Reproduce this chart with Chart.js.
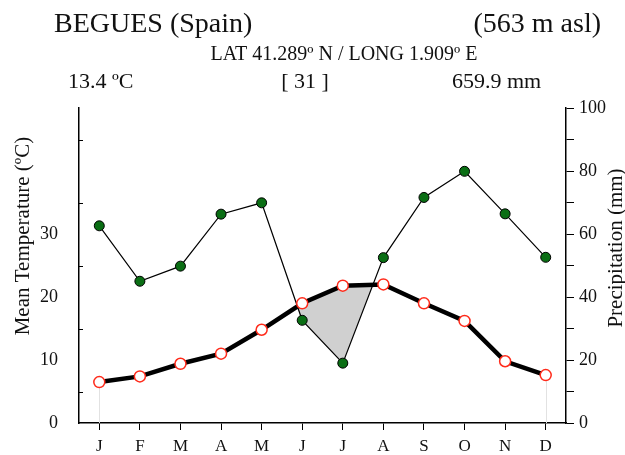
<!DOCTYPE html>
<html>
<head>
<meta charset="utf-8">
<script src="https://cdn.jsdelivr.net/npm/chart.js@4.4.1/dist/chart.umd.min.js"></script>
<style>
html,body{margin:0;padding:0;background:#fff;}
#wrap{position:relative;width:625px;height:455px;}
</style>
</head>
<body>
<div id="wrap"><canvas id="c" width="625" height="455"></canvas></div>
<script>
// ---- data ----
const months = ['J','F','M','A','M','J','J','A','S','O','N','D'];
const tempC = [6.5, 7.4, 9.4, 11.0, 14.8, 19.0, 21.8, 22.0, 19.0, 16.2, 9.8, 7.6];
const precipMm = [62.6, 45.0, 49.8, 66.3, 69.9, 32.6, 19.0, 52.5, 71.6, 79.9, 66.4, 52.6];
const tempLabelTicks = [0, 10, 20, 30];
const tempMinorTicks = [5, 15, 25, 35, 45];
const precipLabelTicks = [0, 20, 40, 60, 80, 100];
const stationTitle = 'BEGUES (Spain)';
const altitudeText = '(563 m asl)';
const coordText = 'LAT 41.289º N / LONG 1.909º E';
const meanTempText = '13.4 ºC';
const yearsText = '[ 31 ]';
const totalPrecipText = '659.9 mm';
const tempAxisTitle = 'Mean Temperature (ºC)';
const precipAxisTitle = 'Precipitation (mm)';

const SERIF = '"Liberation Serif", "DejaVu Serif", serif';

const decor = {
  id: 'decor',
  beforeDatasetsDraw(chart) {
    const ctx = chart.ctx;
    const meta = chart.getDatasetMeta(0);
    const yT = chart.scales.yT;
    ctx.save();
    ctx.strokeStyle = '#e2e2e2';
    ctx.lineWidth = 1;
    [0, meta.data.length - 1].forEach(i => {
      const p = meta.data[i];
      ctx.beginPath();
      ctx.moveTo(Math.round(p.x) + 0.5, p.y);
      ctx.lineTo(Math.round(p.x) + 0.5, yT.getPixelForValue(0));
      ctx.stroke();
    });
    ctx.restore();
  },
  afterDraw(chart) {
    const ctx = chart.ctx;
    const yT = chart.scales.yT;
    const area = chart.chartArea;
    ctx.save();
    // inward minor ticks on the temperature axis
    ctx.strokeStyle = '#000';
    ctx.lineWidth = 1;
    tempMinorTicks.forEach(v => {
      const y = Math.round(yT.getPixelForValue(v)) + 0.5;
      ctx.beginPath();
      ctx.moveTo(area.left, y);
      ctx.lineTo(area.left + 4, y);
      ctx.stroke();
    });
    ctx.fillStyle = '#111';
    ctx.textBaseline = 'alphabetic';
    ctx.font = '28px ' + SERIF;
    ctx.textAlign = 'left';
    ctx.fillText(stationTitle, 54, 32);
    ctx.textAlign = 'right';
    ctx.fillText(altitudeText, 601, 32);
    ctx.font = '20px ' + SERIF;
    ctx.textAlign = 'center';
    ctx.fillText(coordText, 344, 60);
    ctx.font = '22px ' + SERIF;
    ctx.textAlign = 'left';
    ctx.fillText(meanTempText, 68, 88);
    ctx.textAlign = 'center';
    ctx.fillText(yearsText, 305, 88);
    ctx.textAlign = 'left';
    ctx.fillText(totalPrecipText, 452, 88);
    // axis titles
    ctx.font = '21px ' + SERIF;
    ctx.textAlign = 'center';
    ctx.textBaseline = 'middle';
    ctx.save();
    ctx.translate(23, 236);
    ctx.rotate(-Math.PI / 2);
    ctx.fillText(tempAxisTitle, 0, 0);
    ctx.restore();
    ctx.save();
    ctx.translate(616, 248);
    ctx.rotate(-Math.PI / 2);
    ctx.fillText(precipAxisTitle, 0, 0);
    ctx.restore();
    ctx.restore();
  }
};

new Chart(document.getElementById('c'), {
  type: 'line',
  data: {
    labels: months,
    datasets: [
      {
        label: 'Temperature',
        data: tempC,
        yAxisID: 'yT',
        borderColor: '#000',
        borderWidth: 4.5,
        pointRadius: 5.5,
        pointBackgroundColor: '#fff',
        pointBorderColor: '#ff2a1a',
        pointBorderWidth: 1.5,
        tension: 0,
        order: 0,
        fill: { target: 1, above: '#d0d0d0', below: 'rgba(0,0,0,0)' }
      },
      {
        label: 'Precipitation',
        data: precipMm,
        yAxisID: 'yP',
        borderColor: '#000',
        borderWidth: 1.2,
        pointRadius: 5,
        pointBackgroundColor: '#0a6e14',
        pointBorderColor: '#000',
        pointBorderWidth: 1,
        tension: 0,
        order: 1,
        fill: false
      }
    ]
  },
  options: {
    responsive: false,
    animation: false,
    devicePixelRatio: 1,
    layout: { padding: { top: 108, left: 0, right: 0, bottom: 0 } },
    plugins: {
      legend: { display: false },
      tooltip: { enabled: false },
      filler: { drawTime: 'beforeDatasetsDraw' }
    },
    scales: {
      x: {
        type: 'category',
        offset: true,
        afterFit(s) { s.height = 32; },
        border: { display: true, color: '#000', width: 1.5 },
        grid: { display: true, drawOnChartArea: false, drawTicks: true, tickLength: 7, color: '#000', lineWidth: 1 },
        ticks: { color: '#111', padding: 6, font: { family: SERIF, size: 17 }, maxRotation: 0, autoSkip: false }
      },
      yT: {
        type: 'linear',
        position: 'left',
        min: 0, max: 50,
        afterFit(s) { s.width = 79; },
        afterBuildTicks(s) { s.ticks = tempLabelTicks.map(v => ({ value: v })); },
        border: { display: true, color: '#000', width: 1.5 },
        grid: { display: false },
        ticks: { color: '#111', padding: 13, font: { family: SERIF, size: 18 } }
      },
      yP: {
        type: 'linear',
        position: 'right',
        min: 0, max: 100,
        afterFit(s) { s.width = 59; },
        ticks: {
          stepSize: 10,
          color: '#111', padding: 5, font: { family: SERIF, size: 18 },
          callback: v => precipLabelTicks.includes(v) ? String(v) : ''
        },
        border: { display: true, color: '#000', width: 1.5 },
        grid: { display: true, drawOnChartArea: false, drawTicks: true, tickLength: 8, color: '#000', lineWidth: 1 }
      }
    }
  },
  plugins: [decor]
});
</script>
</body>
</html>
